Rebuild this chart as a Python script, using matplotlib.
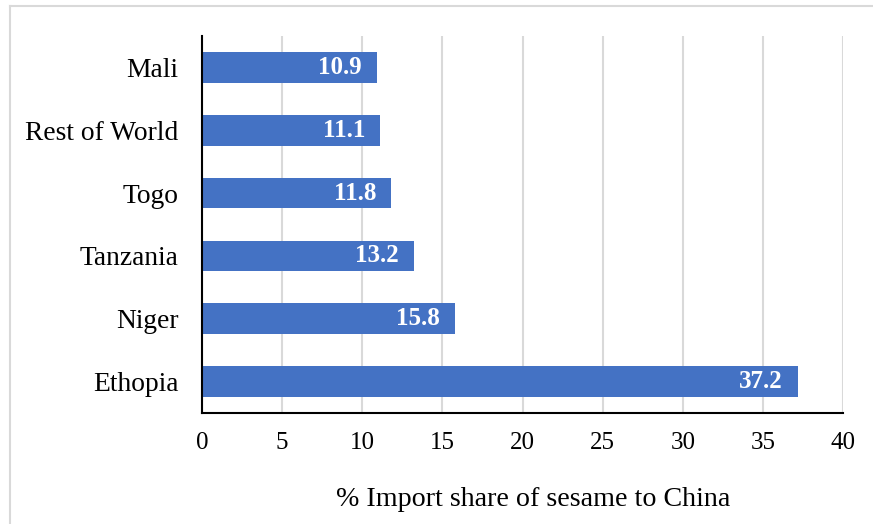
import matplotlib
matplotlib.use("Agg")
import matplotlib.pyplot as plt
from matplotlib.lines import Line2D

categories = ["Ethopia", "Niger", "Tanzania", "Togo", "Rest of World", "Mali"]
values = [37.2, 15.8, 13.2, 11.8, 11.1, 10.9]
xticks = [0, 5, 10, 15, 20, 25, 30, 35, 40]
xlabel = "% Import share of sesame to China"

plt.rcParams['font.family'] = ['Liberation Serif', 'DejaVu Serif']

W, H = 873, 524
fig = plt.figure(figsize=(W/100, H/100), dpi=100)
ax = fig.add_axes([202/W, 1-413/H, (843-202)/W, (413-36)/H])

pos = list(range(len(categories)))
bars = ax.barh(pos, values, height=0.49, color="#4472C4", zorder=3)
ax.set_ylim(-0.5, len(categories)-0.5)
ax.set_xlim(0, 40)
ax.set_xticks(xticks)
ax.set_xticklabels([str(t) for t in xticks], fontsize=18)
ax.set_yticks(pos)
ax.set_yticklabels(categories, fontsize=19.8)
ax.tick_params(axis='x', length=0, pad=14)
ax.tick_params(axis='y', length=0, pad=17)
ax.grid(axis='x', color='#d9d9d9', linewidth=1.5, zorder=0)
ax.set_axisbelow(True)
for s in ['top', 'right']:
    ax.spines[s].set_visible(False)
for s in ['left', 'bottom']:
    ax.spines[s].set_linewidth(1.5)
    ax.spines[s].set_color('black')
    ax.spines[s].set_zorder(4)

for p, v in zip(pos, values):
    ax.annotate(f"{v:.1f}", xy=(v, p), xytext=(-15, 0), textcoords='offset pixels',
                ha='right', va='center', color='white', fontweight='bold',
                fontsize=18, zorder=5)

fig.text(533/W, 1-500/H, xlabel, ha='center', va='center', fontsize=20.2)

# figure border (light gray)
fig.add_artist(Line2D([10/W, 10/W], [0, 1-6/H], transform=fig.transFigure,
                      color='#d9d9d9', linewidth=1.5))
fig.add_artist(Line2D([10/W, 1], [1-6/H, 1-6/H], transform=fig.transFigure,
                      color='#d9d9d9', linewidth=1.5))

fig.savefig("out.png", dpi=100)
